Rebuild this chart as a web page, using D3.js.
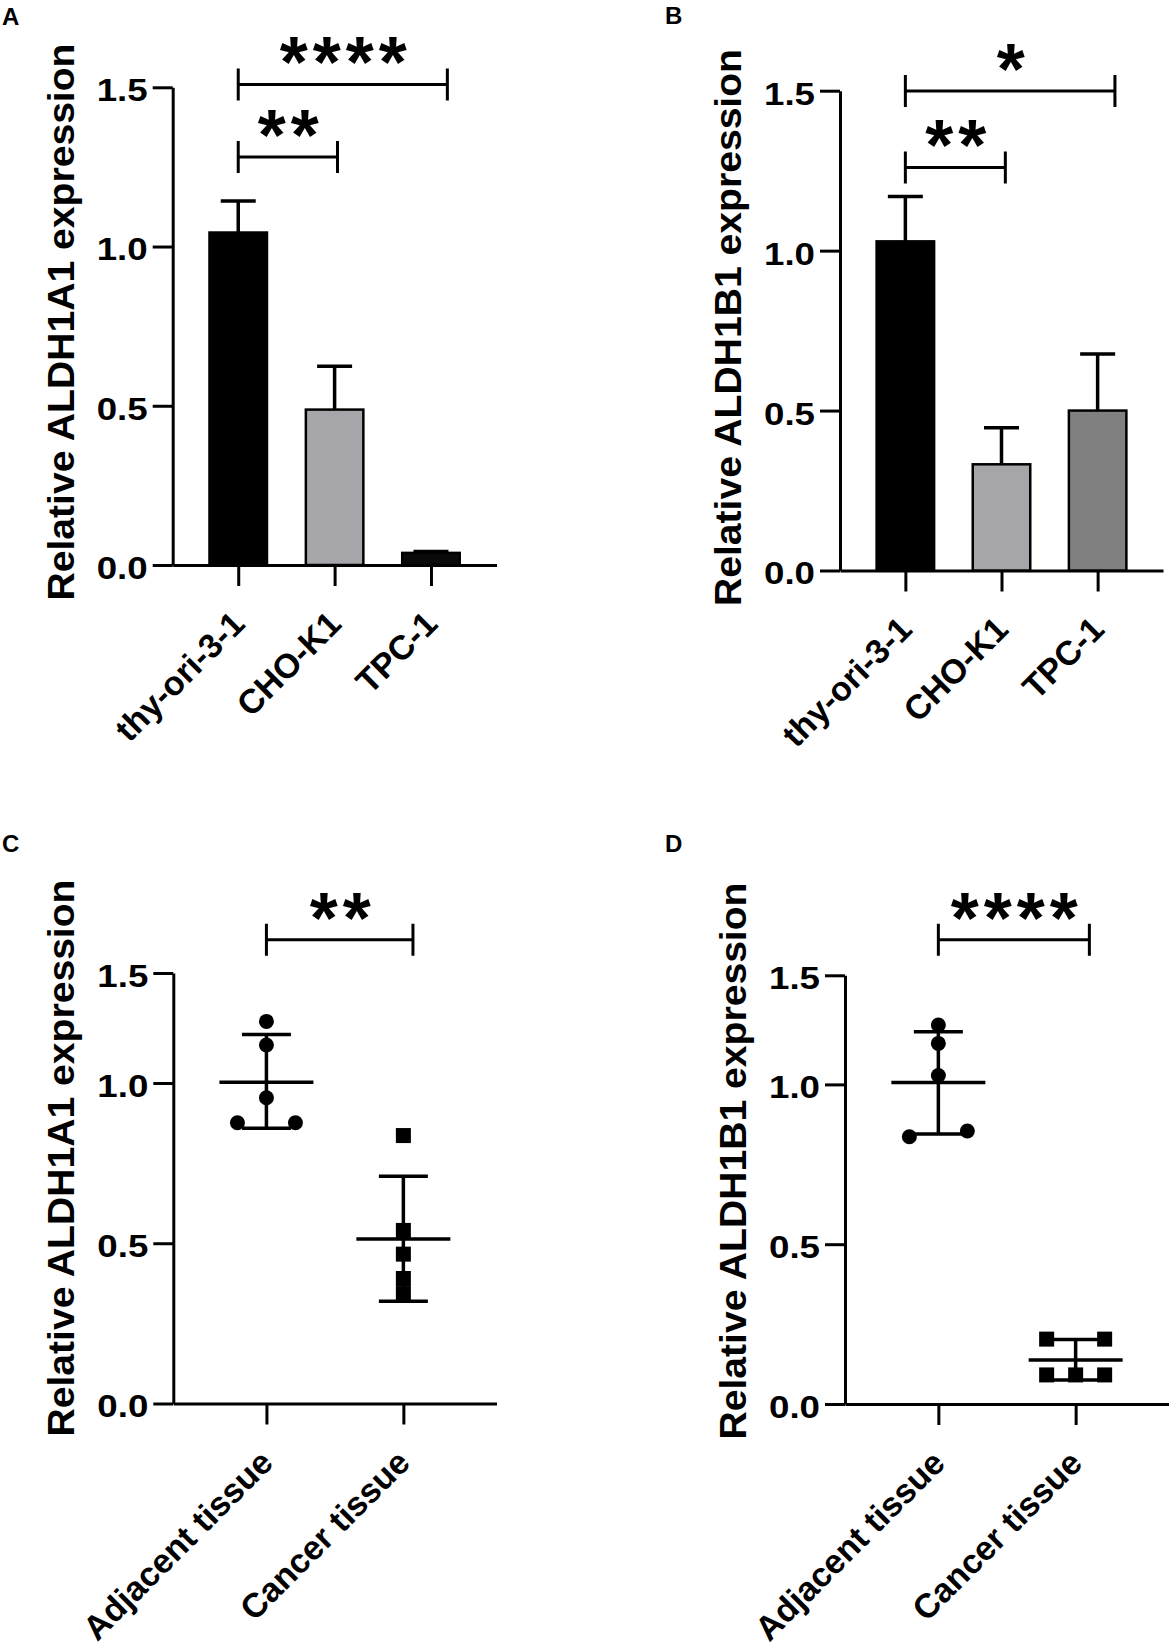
<html>
<head>
<meta charset="utf-8">
<title>ALDH1A1 / ALDH1B1 expression</title>
<script src="https://d3js.org/d3.v7.min.js"></script>
<style>
  body { margin: 0; background: #fff; }
  svg text { font-family: "Liberation Sans", Arial, sans-serif; font-weight: bold; fill: #000; }
</style>
</head>
<body>
<script>
// ---- data ----
const cellLines = ["thy-ori-3-1", "CHO-K1", "TPC-1"];
const tissues = ["Adjacent tissue", "Cancer tissue"];
const yTicks = [0, 0.5, 1.0, 1.5];

// A: ALDH1A1 in cell lines (mean, upper SD)
const aMean = [1.044, 0.488, 0.038];
const aSd = [0.099, 0.136, 0.004];
const aFill = ["#000000", "#a6a6aa", "#0a0a0a"];

// B: ALDH1B1 in cell lines
const bMean = [1.029, 0.332, 0.500];
const bSd = [0.140, 0.114, 0.177];
const bFill = ["#000000", "#a6a6aa", "#808080"];

// C: ALDH1A1 in tissue (individual samples, slot = horizontal spread)
const cAdjacent = [1.280, 1.173, 0.954, 0.876, 0.876];
const cAdjacentSlot = [0, 0, 0, -1, 1];
const cCancer = [0.836, 0.540, 0.466, 0.390, 0.343];
const cCancerSlot = [0, 0, 0, 0, 0];
const cMean = [1.003, 0.513];
const cHigh = [1.221, 0.709];
const cLow = [0.859, 0.319];

// D: ALDH1B1 in tissue
const dAdjacent = [1.272, 1.188, 1.041, 0.836, 0.854];
const dAdjacentSlot = [0, 0, 0, -1, 1];
const dCancer = [0.203, 0.203, 0.091, 0.091, 0.091];
const dCancerSlot = [-1, 1, -1, 0, 1];
const dMean = [1.009, 0.138];
const dHigh = [1.241, 0.202];
const dLow = [0.845, 0.075];

// significance brackets: from/to in category index units, y in data units
const aBrackets = [{ from: 0, to: 2.17, y: 1.509, label: "****" }, { from: 0, to: 1.03, y: 1.281, label: "**" }];
const bBrackets = [{ from: 0, to: 2.18, y: 1.499, label: "*" }, { from: 0, to: 1.04, y: 1.26, label: "**" }];
const cBrackets = [{ from: 0, to: 1.07, y: 1.651, label: "**" }];
const dBrackets = [{ from: 0, to: 1.10, y: 1.663, label: "****" }];

// ---- drawing ----
const svg = d3.select("body").append("svg")
    .attr("width", 1169)
    .attr("height", 1649);

svg.append("rect").attr("width", 1169).attr("height", 1649).attr("fill", "#fff");

function makePanel(cfg) {
    const g = svg.append("g");

    const y = d3.scaleLinear().domain(cfg.yDomain).range(cfg.yRange);
    const x = d3.scalePoint().domain(cfg.cats).range([cfg.axisX, cfg.axisEnd]).padding(0.68);
    const idx = d3.scaleLinear().domain([0, 1]).range([x(cfg.cats[0]), x(cfg.cats[1])]);
    const y0 = y(0);

    // panel letter
    g.append("text").attr("x", cfg.letterX).attr("y", cfg.letterY)
        .attr("font-size", 24).text(cfg.letter);

    // y axis
    const yAxis = g.append("g")
        .attr("transform", "translate(" + cfg.axisX + ",0)")
        .call(d3.axisLeft(y).tickValues(yTicks).tickFormat(d3.format(".1f")).tickSize(20).tickSizeOuter(0).tickPadding(5));
    yAxis.selectAll("text")
        .attr("font-size", 32)
        .attr("dy", "0.42em")
        .attr("textLength", 51)
        .attr("lengthAdjust", "spacingAndGlyphs");

    // x axis
    const xAxis = g.append("g")
        .attr("transform", "translate(0," + y0 + ")")
        .call(d3.axisBottom(x).tickSize(21).tickSizeOuter(0));
    xAxis.selectAll("text")
        .attr("font-size", 34)
        .attr("x", 0).attr("y", 0).attr("dy", 0)
        .attr("text-anchor", "end")
        .attr("transform", "translate(8,61) rotate(-45)");

    svg.selectAll(".domain, .tick line").attr("stroke", "#000").attr("stroke-width", 3);

    // y title
    g.append("text")
        .attr("transform", "translate(" + (cfg.axisX - 99) + "," + cfg.titleY + ") rotate(-90)")
        .attr("text-anchor", "middle")
        .attr("font-size", 36)
        .attr("textLength", 557)
        .attr("lengthAdjust", "spacingAndGlyphs")
        .text(cfg.title);

    // brackets
    cfg.brackets.forEach(b => {
        const x1 = idx(b.from), x2 = idx(b.to), yy = y(b.y);
        g.append("path")
            .attr("d", "M" + x1 + "," + (yy - 16) + "V" + (yy + 16) + "M" + x1 + "," + yy + "H" + x2 + "M" + x2 + "," + (yy - 16) + "V" + (yy + 16))
            .attr("fill", "none").attr("stroke", "#000").attr("stroke-width", 3);
        g.append("text")
            .attr("x", (x1 + x2) / 2 + 3).attr("y", yy + 3)
            .attr("text-anchor", "middle")
            .attr("font-size", 72)
            .attr("letter-spacing", 5)
            .text(b.label);
    });

    return { g, x, y };
}

function drawBars(p, cats, mean, sd, fill) {
    const barW = 57.5;
    p.g.selectAll(".bar").data(cats).join("rect")
        .attr("x", d => p.x(d) - barW / 2)
        .attr("y", (d, i) => p.y(mean[i]))
        .attr("width", barW)
        .attr("height", (d, i) => p.y(0) - p.y(mean[i]))
        .attr("fill", (d, i) => fill[i])
        .attr("stroke", "#000").attr("stroke-width", 2.5);
    p.g.selectAll(".err").data(cats).join("path")
        .attr("d", (d, i) => {
            const cx = p.x(d), top = p.y(mean[i] + sd[i]), base = p.y(mean[i]);
            return "M" + cx + "," + base + "V" + top + "M" + (cx - 17.5) + "," + top + "H" + (cx + 17.5);
        })
        .attr("fill", "none").attr("stroke", "#000").attr("stroke-width", 3.5);
}

function drawScatter(p, cats, groups, slots, mean, high, low) {
    const spread = 29;
    cats.forEach((c, gi) => {
        const cx = p.x(c);
        const pts = groups[gi].map((v, k) => ({ v: v, s: slots[gi][k] }));
        if (gi === 0) {
            p.g.selectAll(".dot").data(pts).join("circle")
                .attr("cx", d => cx + d.s * spread)
                .attr("cy", d => p.y(d.v))
                .attr("r", 7.5)
                .attr("fill", "#000");
        } else {
            p.g.selectAll(".sq").data(pts).join("rect")
                .attr("x", d => cx + d.s * spread - 7.5)
                .attr("y", d => p.y(d.v) - 7.5)
                .attr("width", 15).attr("height", 15)
                .attr("fill", "#000");
        }
        const yt = p.y(high[gi]), yb = p.y(low[gi]), ym = p.y(mean[gi]);
        p.g.append("path")
            .attr("d", "M" + cx + "," + yt + "V" + yb +
                "M" + (cx - 24.5) + "," + yt + "H" + (cx + 24.5) +
                "M" + (cx - 24.5) + "," + yb + "H" + (cx + 24.5) +
                "M" + (cx - 47) + "," + ym + "H" + (cx + 47))
            .attr("fill", "none").attr("stroke", "#000").attr("stroke-width", 3.5);
    });
}

const pA = makePanel({
    letter: "A", letterX: 2, letterY: 25,
    cats: cellLines, axisX: 172.7, axisEnd: 496.5,
    yDomain: [0, 1.5], yRange: [565, 87.3], titleY: 322,
    title: "Relative ALDH1A1 expression", brackets: aBrackets
});
drawBars(pA, cellLines, aMean, aSd, aFill);

const pB = makePanel({
    letter: "B", letterX: 665, letterY: 24,
    cats: cellLines, axisX: 840, axisEnd: 1163,
    yDomain: [0, 1.5], yRange: [570.5, 90.7], titleY: 327.5,
    title: "Relative ALDH1B1 expression", brackets: bBrackets
});
drawBars(pB, cellLines, bMean, bSd, bFill);

// C and D: the 1.0-1.5 stretch of the axis is drawn shorter than the rest
const pC = makePanel({
    letter: "C", letterX: 2, letterY: 852,
    cats: tissues, axisX: 173.3, axisEnd: 496.5,
    yDomain: [0, 1, 1.5], yRange: [1403.5, 1083, 973], titleY: 1158,
    title: "Relative ALDH1A1 expression", brackets: cBrackets
});
drawScatter(pC, tissues, [cAdjacent, cCancer], [cAdjacentSlot, cCancerSlot], cMean, cHigh, cLow);

const pD = makePanel({
    letter: "D", letterX: 665, letterY: 852,
    cats: tissues, axisX: 845, axisEnd: 1169,
    yDomain: [0, 1, 1.5], yRange: [1404, 1084.4, 975.3], titleY: 1161,
    title: "Relative ALDH1B1 expression", brackets: dBrackets
});
drawScatter(pD, tissues, [dAdjacent, dCancer], [dAdjacentSlot, dCancerSlot], dMean, dHigh, dLow);
</script>
</body>
</html>
